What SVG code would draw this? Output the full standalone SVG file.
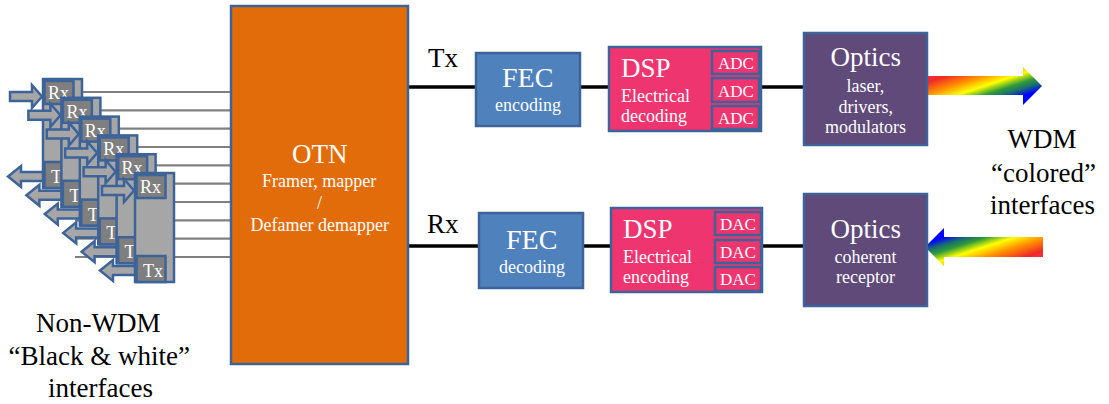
<svg xmlns="http://www.w3.org/2000/svg" width="1109" height="404" viewBox="0 0 1109 404" font-family="Liberation Serif">
<defs>
<style>
text{font-family:'Liberation Serif', serif;}
.tw{fill:#fff;}
.tk{fill:#000;}
.fbig{font-size:27px;}
.ffec{font-size:28px;}
.fmid{font-size:18px;}
.fsm{font-size:17px;}
.box{stroke:#3D6399;stroke-width:2.5;}
.otn{fill:#E36C0A;}
.fec{fill:#4F81BD;}
.dsp{fill:#EF3570;}
.opt{fill:#5F4A7A;}
.body{fill:#A6A6A6;stroke:#3D6399;stroke-width:2.5;}
.port{fill:#7F7F7F;stroke:#3D6399;stroke-width:2.5;}
.arr{fill:#A6A6A6;stroke:#3D6399;stroke-width:2.5;stroke-linejoin:miter;}
.gl{stroke:#808080;stroke-width:2.2;}
.bl{stroke:#000;stroke-width:3.5;}
</style>
<linearGradient id="rbR" x1="0" y1="0" x2="1" y2="1">
<stop offset="0" stop-color="#F03A6A"/>
<stop offset="0.2" stop-color="#F02828"/>
<stop offset="0.36" stop-color="#FF9000"/>
<stop offset="0.5" stop-color="#FFFF00"/>
<stop offset="0.62" stop-color="#2E9A3A"/>
<stop offset="0.7" stop-color="#1A6E70"/>
<stop offset="0.8" stop-color="#0000FF"/>
<stop offset="1" stop-color="#0000FF"/>
</linearGradient>
<linearGradient id="rbL" x1="1" y1="1" x2="0" y2="0">
<stop offset="0" stop-color="#F03A6A"/>
<stop offset="0.2" stop-color="#F02828"/>
<stop offset="0.36" stop-color="#FF9000"/>
<stop offset="0.5" stop-color="#FFFF00"/>
<stop offset="0.62" stop-color="#2E9A3A"/>
<stop offset="0.7" stop-color="#1A6E70"/>
<stop offset="0.8" stop-color="#0000FF"/>
<stop offset="1" stop-color="#0000FF"/>
</linearGradient>
<g id="mod">
<polygon class="arr" points="-33,13 -11,13 -11,6 -1,17.5 -11,29 -11,22 -33,22"/>
<polygon class="arr" points="2,93 -22,93 -22,87 -35,97.5 -22,108 -22,102 2,102"/>
<rect class="body" x="0" y="0" width="39" height="109"/>
<rect class="port" x="1.5" y="2" width="29" height="23"/>
<rect class="port" x="1.5" y="83" width="29" height="26"/>
<text class="tw fmid" x="5" y="20">Rx</text>
<text class="tw fmid" x="8" y="104">Tx</text>
</g>
</defs>
<rect width="1109" height="404" fill="#fff"/>

<g id="connectors">
<line class="gl" x1="75" y1="92" x2="231" y2="92"/>
<line class="gl" x1="75" y1="110.3" x2="231" y2="110.3"/>
<line class="gl" x1="75" y1="128.7" x2="231" y2="128.7"/>
<line class="gl" x1="75" y1="147" x2="231" y2="147"/>
<line class="gl" x1="75" y1="165.3" x2="231" y2="165.3"/>
<line class="gl" x1="75" y1="183.7" x2="231" y2="183.7"/>
<line class="gl" x1="75" y1="202" x2="231" y2="202"/>
<line class="gl" x1="75" y1="220.3" x2="231" y2="220.3"/>
<line class="gl" x1="75" y1="238.7" x2="231" y2="238.7"/>
<line class="gl" x1="75" y1="257" x2="231" y2="257"/>
<line class="bl" x1="408" y1="87" x2="476" y2="87"/>
<line class="bl" x1="580" y1="87" x2="609" y2="87"/>
<line class="bl" x1="761" y1="87" x2="804" y2="87"/>
<line class="bl" x1="408" y1="246" x2="479" y2="246"/>
<line class="bl" x1="583" y1="246" x2="611" y2="246"/>
<line class="bl" x1="762" y1="246" x2="804" y2="246"/>
<polygon fill="url(#rbR)" points="927,76 1023,76 1023,67 1042,86 1023,105 1023,95 927,95"/>
<polygon fill="url(#rbL)" points="1043,237 944,237 944,228 925,247 944,266 944,257 1043,257"/>
</g>

<g id="modules">
<use href="#mod" transform="translate(43,79)"/>
<use href="#mod" transform="translate(61.4,97.8)"/>
<use href="#mod" transform="translate(79.8,116.6)"/>
<use href="#mod" transform="translate(98.2,135.4)"/>
<use href="#mod" transform="translate(116.6,154.2)"/>
<use href="#mod" transform="translate(135,173)"/>
</g>

<g id="otn">
<rect class="box otn" x="231" y="6" width="177" height="358"/>
<text class="tw fbig" x="292" y="163">OTN</text>
<text class="tw fmid" x="262" y="187">Framer, mapper</text>
<text class="tw fmid" x="317" y="209">/</text>
<text class="tw fmid" x="250.5" y="231">Defamer demapper</text>
</g>

<g id="labels">
<text class="tk fbig" x="428" y="67">Tx</text>
<text class="tk fbig" x="427" y="233">Rx</text>
<text class="tk fbig" x="36" y="332">Non-WDM</text>
<text class="tk fbig" x="8.5" y="365">“Black &amp; white”</text>
<text class="tk fbig" x="48" y="397">interfaces</text>
<text class="tk fbig" x="1007.5" y="148">WDM</text>
<text class="tk fbig" x="991" y="182">“colored”</text>
<text class="tk fbig" x="990" y="214">interfaces</text>
</g>

<g id="fec-tx">
<rect class="box fec" x="476" y="53" width="104" height="73"/>
<text class="tw ffec" x="502" y="87">FEC</text>
<text class="tw fmid" x="495" y="111">encoding</text>
</g>
<g id="fec-rx">
<rect class="box fec" x="479" y="213" width="104" height="75"/>
<text class="tw ffec" x="506" y="249">FEC</text>
<text class="tw fmid" x="499" y="273">decoding</text>
</g>

<g id="dsp-tx">
<rect class="box dsp" x="609" y="47" width="152" height="84"/>
<text class="tw fbig" x="621" y="77">DSP</text>
<text class="tw fmid" x="621" y="102">Electrical</text>
<text class="tw fmid" x="621" y="122">decoding</text>
<rect class="box dsp" x="712" y="51" width="47" height="23"/>
<rect class="box dsp" x="712" y="78" width="47" height="24"/>
<rect class="box dsp" x="712" y="106" width="47" height="23"/>
<text class="tw fsm" x="718" y="69">ADC</text>
<text class="tw fsm" x="718" y="97">ADC</text>
<text class="tw fsm" x="718" y="124">ADC</text>
</g>
<g id="dsp-rx">
<rect class="box dsp" x="611" y="208" width="151" height="84"/>
<text class="tw fbig" x="623" y="238">DSP</text>
<text class="tw fmid" x="623" y="263">Electrical</text>
<text class="tw fmid" x="623" y="283">encoding</text>
<rect class="box dsp" x="715" y="212" width="46" height="23"/>
<rect class="box dsp" x="715" y="240" width="46" height="23"/>
<rect class="box dsp" x="715" y="267" width="46" height="24"/>
<text class="tw fsm" x="720" y="230">DAC</text>
<text class="tw fsm" x="720" y="258">DAC</text>
<text class="tw fsm" x="720" y="285">DAC</text>
</g>

<g id="optics-tx">
<rect class="box opt" x="804" y="33" width="123" height="112"/>
<text class="tw fbig" x="830.5" y="66">Optics</text>
<text class="tw fmid" x="846.5" y="92">laser,</text>
<text class="tw fmid" x="838.5" y="113">drivers,</text>
<text class="tw fmid" x="825" y="133">modulators</text>
</g>
<g id="optics-rx">
<rect class="box opt" x="804" y="194" width="123" height="112"/>
<text class="tw fbig" x="830.5" y="238">Optics</text>
<text class="tw fmid" x="834.5" y="263">coherent</text>
<text class="tw fmid" x="836" y="283">receptor</text>
</g>
</svg>
